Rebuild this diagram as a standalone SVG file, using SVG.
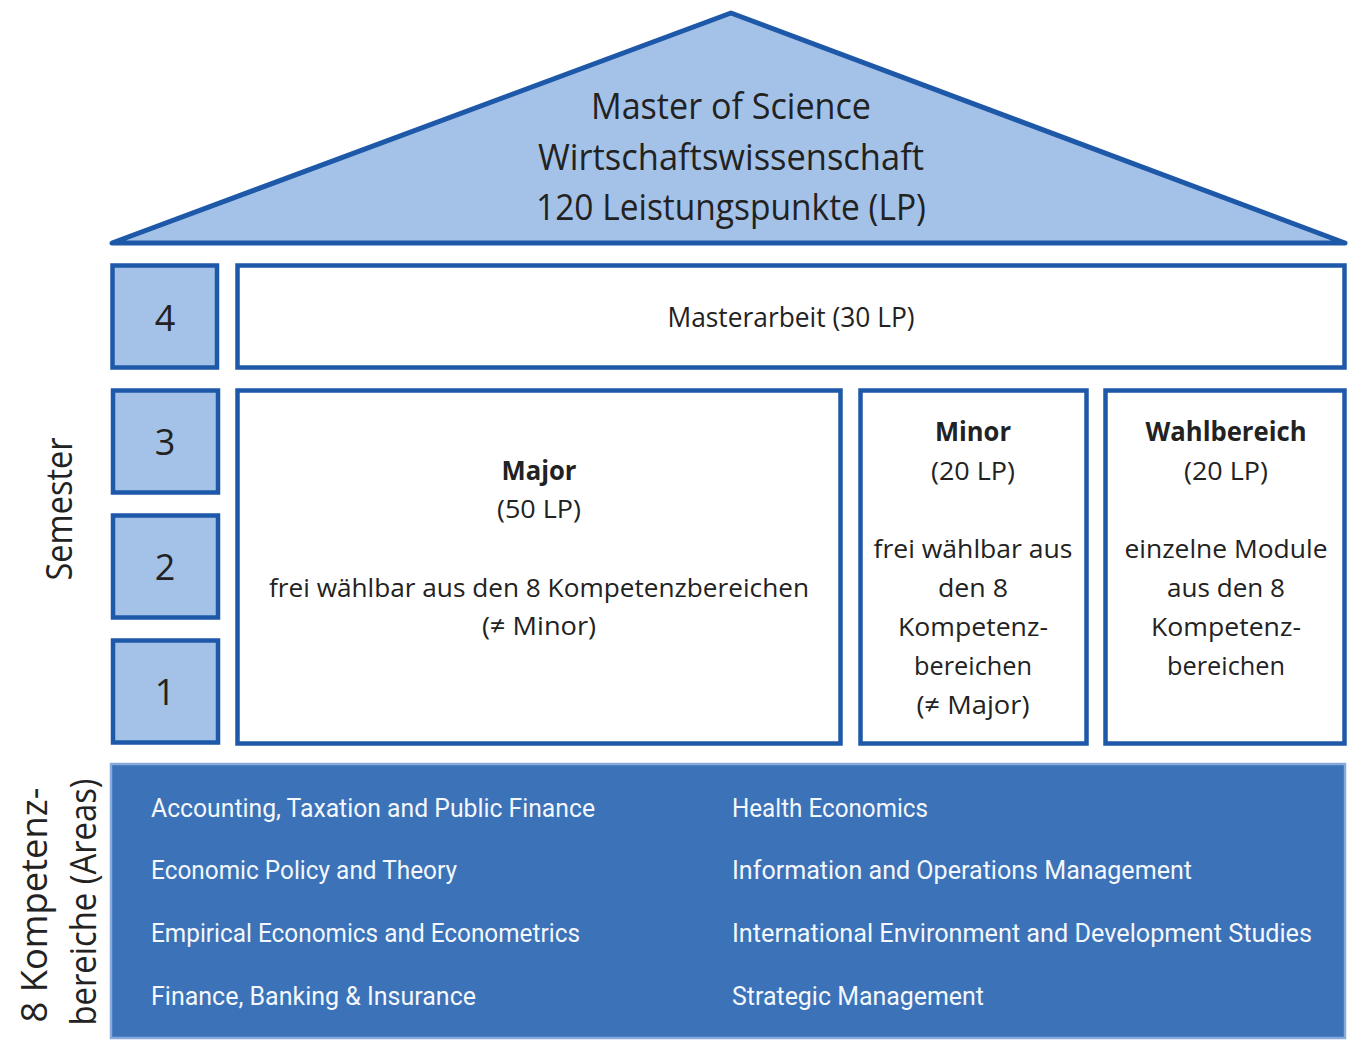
<svg xmlns="http://www.w3.org/2000/svg" width="1349" height="1041" viewBox="0 0 1349 1041">
<style>
.box{fill:#ffffff;stroke:#1e58a8;stroke-width:4.5}
.sem{fill:#a4c2e7;stroke:#1e58a8;stroke-width:4.5}
.t{font-family:"Open Sans","Noto Sans",sans-serif;fill:#222222;text-anchor:middle}
.b{font-weight:bold}
.w{font-family:"Roboto","Liberation Sans",sans-serif;fill:#f4f7fc;font-size:26px}
</style>
<rect x="0" y="0" width="1349" height="1041" fill="#ffffff"/>
<g id="roof">
<polygon points="112,243 731,13 1345,243" fill="#a4c2e7" stroke="#1e58a8" stroke-width="5" stroke-linejoin="round"/>
<text class="t" x="731" y="119" font-size="37" textLength="280" lengthAdjust="spacingAndGlyphs">Master of Science</text>
<text class="t" x="731" y="170" font-size="37" textLength="386" lengthAdjust="spacingAndGlyphs">Wirtschaftswissenschaft</text>
<text class="t" x="731" y="220" font-size="37" textLength="390" lengthAdjust="spacingAndGlyphs">120 Leistungspunkte (LP)</text>
</g>
<g id="sem4">
<rect class="sem" x="112.5" y="265.5" width="104.5" height="102"/>
<text class="t" x="165" y="331" font-size="36">4</text>
</g>
<g id="sem3">
<rect class="sem" x="113" y="390.5" width="105" height="102"/>
<text class="t" x="165" y="455" font-size="36">3</text>
</g>
<g id="sem2">
<rect class="sem" x="113" y="515.5" width="105" height="102"/>
<text class="t" x="165" y="580" font-size="36">2</text>
</g>
<g id="sem1">
<rect class="sem" x="113" y="640.5" width="105" height="102"/>
<text class="t" x="165" y="705" font-size="36">1</text>
</g>
<g id="masterarbeit">
<rect class="box" x="237.5" y="265.5" width="1107" height="102"/>
<text class="t" x="791" y="327" font-size="27" textLength="247" lengthAdjust="spacingAndGlyphs">Masterarbeit (30 LP)</text>
</g>
<g id="major">
<rect class="box" x="237.5" y="390.5" width="603" height="353"/>
<text class="t b" x="539" y="480" font-size="26" textLength="75" lengthAdjust="spacingAndGlyphs">Major</text>
<text class="t" x="539" y="518" font-size="26" textLength="84" lengthAdjust="spacingAndGlyphs">(50 LP)</text>
<text class="t" x="539" y="597" font-size="26" textLength="540" lengthAdjust="spacingAndGlyphs">frei wählbar aus den 8 Kompetenzbereichen</text>
<text class="t" x="539" y="635" font-size="26" textLength="114" lengthAdjust="spacingAndGlyphs">(≠ Minor)</text>
</g>
<g id="minor">
<rect class="box" x="860.5" y="390.5" width="226" height="353"/>
<text class="t b" x="973" y="441" font-size="26" textLength="76" lengthAdjust="spacingAndGlyphs">Minor</text>
<text class="t" x="973" y="480" font-size="26" textLength="84" lengthAdjust="spacingAndGlyphs">(20 LP)</text>
<text class="t" x="973" y="558" font-size="26" textLength="199" lengthAdjust="spacingAndGlyphs">frei wählbar aus</text>
<text class="t" x="973" y="597" font-size="26" textLength="70" lengthAdjust="spacingAndGlyphs">den 8</text>
<text class="t" x="973" y="636" font-size="26" textLength="150" lengthAdjust="spacingAndGlyphs">Kompetenz-</text>
<text class="t" x="973" y="675" font-size="26" textLength="118" lengthAdjust="spacingAndGlyphs">bereichen</text>
<text class="t" x="973" y="714" font-size="26" textLength="113" lengthAdjust="spacingAndGlyphs">(≠ Major)</text>
</g>
<g id="wahlbereich">
<rect class="box" x="1105.5" y="390.5" width="239" height="353"/>
<text class="t b" x="1226" y="441" font-size="26" textLength="161" lengthAdjust="spacingAndGlyphs">Wahlbereich</text>
<text class="t" x="1226" y="480" font-size="26" textLength="84" lengthAdjust="spacingAndGlyphs">(20 LP)</text>
<text class="t" x="1226" y="558" font-size="26" textLength="203" lengthAdjust="spacingAndGlyphs">einzelne Module</text>
<text class="t" x="1226" y="597" font-size="26" textLength="118" lengthAdjust="spacingAndGlyphs">aus den 8</text>
<text class="t" x="1226" y="636" font-size="26" textLength="150" lengthAdjust="spacingAndGlyphs">Kompetenz-</text>
<text class="t" x="1226" y="675" font-size="26" textLength="118" lengthAdjust="spacingAndGlyphs">bereichen</text>
</g>
<g id="semester-label">
<text class="t" transform="translate(72,509) rotate(-90)" font-size="37" textLength="143" lengthAdjust="spacingAndGlyphs">Semester</text>
</g>
<g id="areas-label">
<text class="t" transform="translate(47,905) rotate(-90)" font-size="37" textLength="235" lengthAdjust="spacingAndGlyphs">8 Kompetenz-</text>
<text class="t" transform="translate(96,902) rotate(-90)" font-size="37" textLength="247" lengthAdjust="spacingAndGlyphs">bereiche (Areas)</text>
</g>
<g id="areas">
<rect x="111" y="764" width="1234" height="274" fill="#3b72b8" stroke="#86aadb" stroke-width="2.5"/>
<text class="w" x="151" y="817" textLength="444" lengthAdjust="spacingAndGlyphs">Accounting, Taxation and Public Finance</text>
<text class="w" x="151" y="879" textLength="306" lengthAdjust="spacingAndGlyphs">Economic Policy and Theory</text>
<text class="w" x="151" y="942" textLength="429" lengthAdjust="spacingAndGlyphs">Empirical Economics and Econometrics</text>
<text class="w" x="151" y="1005" textLength="325" lengthAdjust="spacingAndGlyphs">Finance, Banking &amp; Insurance</text>
<text class="w" x="732" y="817" textLength="196" lengthAdjust="spacingAndGlyphs">Health Economics</text>
<text class="w" x="732" y="879" textLength="460" lengthAdjust="spacingAndGlyphs">Information and Operations Management</text>
<text class="w" x="732" y="942" textLength="580" lengthAdjust="spacingAndGlyphs">International Environment and Development Studies</text>
<text class="w" x="732" y="1005" textLength="252" lengthAdjust="spacingAndGlyphs">Strategic Management</text>
</g>
<g id="connectors"/>
</svg>
